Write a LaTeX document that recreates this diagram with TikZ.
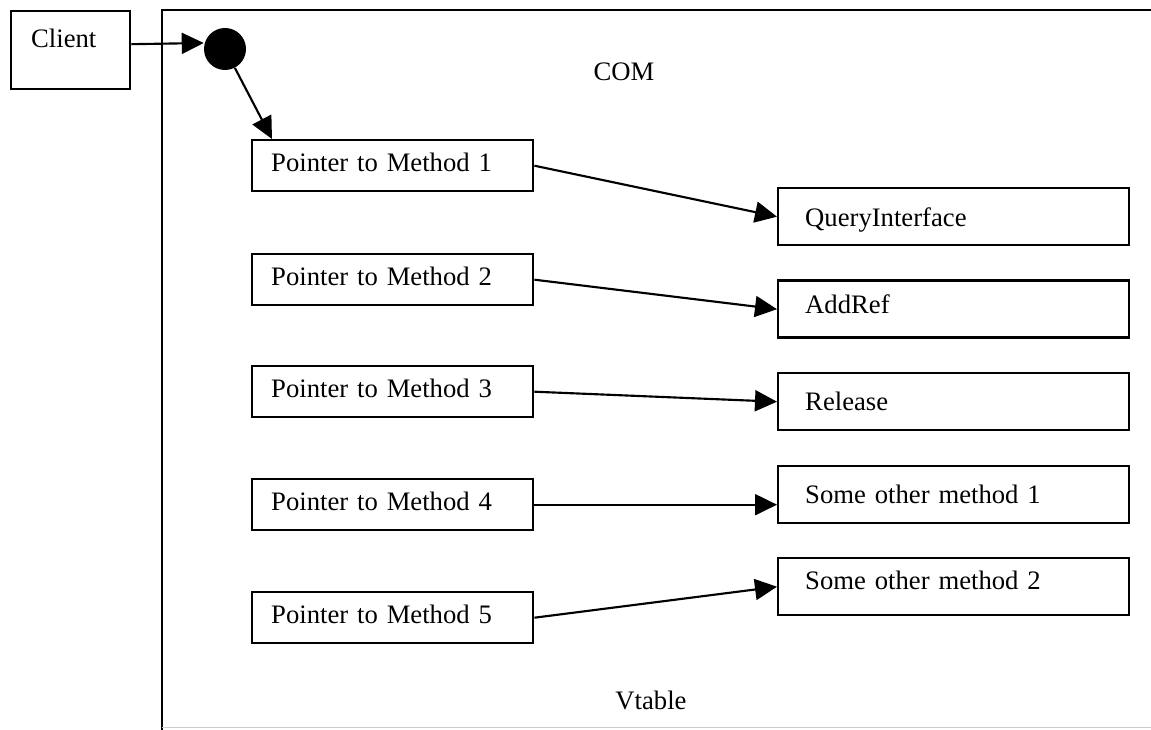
\documentclass[tikz,border=0pt]{standalone}
\usepackage{fontspec}
\setmainfont{Liberation Serif}
\usetikzlibrary{arrows.meta,calc}

\begin{document}
\begin{tikzpicture}[
  x=0.75pt, y=-0.75pt,
  font=\fontsize{20}{24}\selectfont,
  box/.style={draw, line width=1.8pt, inner ysep=0pt, align=left, anchor=north west},
  ptrbox/.style={box, inner xsep=14.25pt, text width=182.25pt,
                 text height=23.25pt, text depth=15pt},
  methbox/.style={box, inner xsep=20.25pt, text width=222.75pt},
  link/.style={line width=1.6pt, -{Triangle[length=16.5pt,width=15.75pt]}},
  frame/.style={line width=2.1pt}
]
\useasboundingbox (0,0) rectangle (1151,730);

% COM object outline
\coordinate (frTR) at (1151,10);
\coordinate (frTL) at (162,10);
\coordinate (frBL) at (162,730);
\draw[frame] (frTR) -- (frTL) -- (frBL);
\draw[gray!40, line width=0.6pt] (162,727) -- (1151,727);

% client and interface pointer
\node[box, inner xsep=15pt, text width=59.25pt, text height=27pt, text depth=31.5pt]
  (client) at (10,10) {Client};
\node[circle, fill=black, inner sep=0pt, minimum size=31.5pt] (circ) at (225,49) {};

\node[anchor=base] (com) at (624,81) {COM};
\node[anchor=base] (vtable) at (651,709) {Vtable};

% vtable entries
\node[ptrbox] (p1) at (251,139) {Pointer to Method 1};
\node[ptrbox] (p2) at (251,253) {Pointer to Method 2};
\node[ptrbox] (p3) at (251,365) {Pointer to Method 3};
\node[ptrbox] (p4) at (251,478) {Pointer to Method 4};
\node[ptrbox] (p5) at (251,591) {Pointer to Method 5};

% method implementations
\node[methbox, text height=28.5pt,  text depth=14.25pt] (m1) at (777,187)   {QueryInterface};
\node[methbox, text height=24.75pt, text depth=18pt]    (m2) at (777,279.5) {AddRef};
\node[methbox, text height=27.75pt, text depth=15pt]    (m3) at (777,372)   {Release};
\node[methbox, text height=28.5pt,  text depth=14.25pt] (m4) at (777,464.5) {Some other method 1};
\node[methbox, text height=23.25pt, text depth=19.5pt]  (m5) at (777,557)   {Some other method 2};

% connectors
\draw[link] ([yshift=4.5pt]client.east) -- ([yshift=4.5pt]circ.west);
\draw[link] (circ) -- ($(p1.north west)+(21,0)$);
\draw[link] (p1.east) -- (m1.west);
\draw[link] (p2.east) -- (m2.west);
\draw[link] (p3.east) -- (m3.west);
\draw[link] (p4.east) -- (p4.east -| m4.west);
\draw[link] (p5.east) -- (m5.west);
\end{tikzpicture}
\end{document}
